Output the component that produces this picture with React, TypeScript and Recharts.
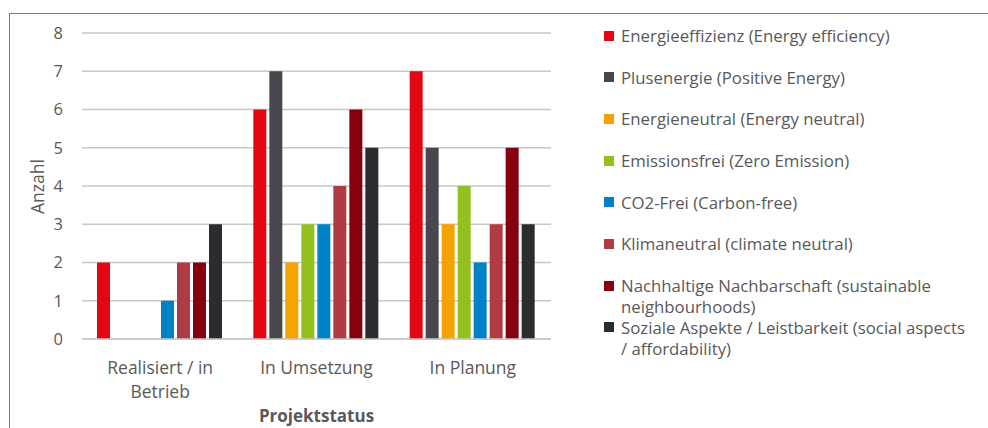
import React from 'react';
import { BarChart, Bar, XAxis, YAxis, CartesianGrid } from 'recharts';

// Project status categories (x axis)
const categories = ['Realisiert / in Betrieb', 'In Umsetzung', 'In Planung'];
// Tick label lines per category
const categoryLines = [['Realisiert / in', 'Betrieb'], ['In Umsetzung'], ['In Planung']];

// Number of projects per concept and status
const energieeffizienz = [2, 6, 7];
const plusenergie = [0, 7, 5];
const energieneutral = [0, 2, 3];
const emissionsfrei = [0, 3, 4];
const co2Frei = [1, 3, 2];
const klimaneutral = [2, 4, 3];
const nachhaltigeNachbarschaft = [2, 6, 5];
const sozialeAspekte = [3, 5, 3];

const yTicks = [0, 1, 2, 3, 4, 5, 6, 7, 8];

const seriesDefs = [
  { key: 'energieeffizienz', name: 'Energieeffizienz (Energy efficiency)', color: '#E30613', values: energieeffizienz },
  { key: 'plusenergie', name: 'Plusenergie (Positive Energy)', color: '#48474D', values: plusenergie },
  { key: 'energieneutral', name: 'Energieneutral (Energy neutral)', color: '#F4A300', values: energieneutral },
  { key: 'emissionsfrei', name: 'Emissionsfrei (Zero Emission)', color: '#93C01F', values: emissionsfrei },
  { key: 'co2Frei', name: 'CO2-Frei (Carbon-free)', color: '#0082C8', values: co2Frei },
  { key: 'klimaneutral', name: 'Klimaneutral (climate neutral)', color: '#B03B45', values: klimaneutral },
  { key: 'nachhaltig', name: 'Nachhaltige Nachbarschaft (sustainable\nneighbourhoods)', color: '#870010', values: nachhaltigeNachbarschaft },
  { key: 'sozial', name: 'Soziale Aspekte / Leistbarkeit (social aspects\n/ affordability)', color: '#2C2C30', values: sozialeAspekte },
];

const data = categories.map((c, i) => {
  const row: Record<string, string | number> = { category: c };
  seriesDefs.forEach((s) => {
    row[s.key] = s.values[i];
  });
  return row;
});

const FONT = '"Open Sans", Lato, sans-serif';
const TEXT = '#595959';

const CategoryTick = (props: any) => {
  const { x, y, payload } = props;
  const idx = categories.indexOf(payload.value);
  const lines = idx >= 0 ? categoryLines[idx] : [payload.value];
  return (
    <g>
      {lines.map((l: string, i: number) => (
        <text key={i} x={x} y={y + 33 + i * 24} textAnchor="middle" fill={TEXT} fontSize={17.5} fontFamily={FONT}>
          {l}
        </text>
      ))}
    </g>
  );
};

const LegendBox = () => (
  <div style={{ position: 'absolute', left: 604, top: 25, width: 384, fontFamily: FONT, fontSize: 16.8, color: TEXT }}>
    {seriesDefs.map((s) => (
      <div key={s.key} style={{ position: 'relative', height: 41.7, lineHeight: '21px', paddingLeft: 17, whiteSpace: 'pre-line' }}>
        <span style={{ position: 'absolute', left: 0, top: 5.5, width: 10, height: 10, background: s.color }} />
        {s.name}
      </div>
    ))}
  </div>
);

export default function App() {
  return (
    <div style={{ position: 'absolute', left: 0, top: 0, width: 988, height: 428, background: '#fff', overflow: 'hidden' }}>
      {/* chart frame */}
      <div style={{ position: 'absolute', left: 9, top: 13, width: 990, height: 430, borderLeft: '1px solid #7a7a7a', borderTop: '1px solid #7a7a7a' }} />
      <div style={{ position: 'absolute', left: 0, top: 0 }}>
        <BarChart
          width={988}
          height={428}
          data={data}
          margin={{ top: 33, left: 42, right: 437, bottom: 29 }}
          barGap={3}
          barCategoryGap={15}
        >
          <CartesianGrid vertical={false} stroke="#c8c8c8" strokeWidth={1.5} />
          <XAxis
            dataKey="category"
            height={60}
            tickLine={false}
            tickSize={0}
            axisLine={{ stroke: '#c8c8c8', strokeWidth: 1.5 }}
            tick={<CategoryTick />}
            interval={0}
            label={{
              content: (p: any) => {
                const vb = p.viewBox;
                return (
                  <text x={vb.x + vb.width / 2} y={vb.y + 83} textAnchor="middle" fill={TEXT} fontSize={17} fontWeight="bold" fontFamily={FONT}>
                    Projektstatus
                  </text>
                );
              },
            }}
          />
          <YAxis
            width={40}
            domain={[0, 8]}
            ticks={yTicks}
            interval={0}
            tickLine={false}
            axisLine={false}
            tickSize={0}
            tickMargin={19}
            tick={{ fill: TEXT, fontSize: 16.5, fontFamily: FONT }}
            label={{
              content: () => (
                <text x={43.5} y={186.5} transform="rotate(-90 43.5 186.5)" textAnchor="middle" fill={TEXT} fontSize={17.5} fontFamily={FONT}>
                  Anzahl
                </text>
              ),
            }}
          />
          {seriesDefs.map((s) => (
            <Bar key={s.key} dataKey={s.key} name={s.name} fill={s.color} isAnimationActive={false} />
          ))}
        </BarChart>
      </div>
      <LegendBox />
    </div>
  );
}
